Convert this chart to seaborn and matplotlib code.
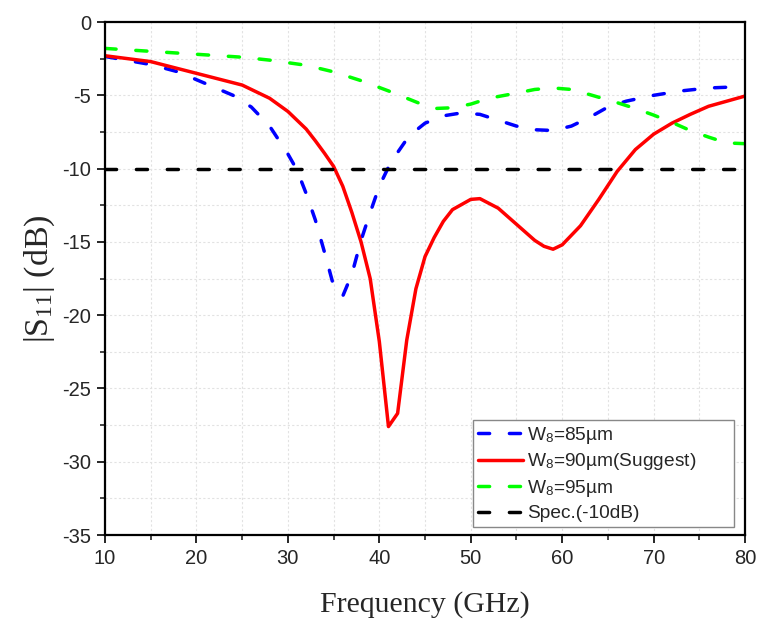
import matplotlib
matplotlib.use("Agg")
import matplotlib.pyplot as plt
import seaborn as sns
import pandas as pd
from matplotlib.ticker import MultipleLocator

# ---- data ----
freq_85 = [10, 15, 18, 21, 24, 26, 28, 30, 31, 32, 33, 34, 35, 36, 37, 38, 39, 40, 41, 42, 43, 44, 45,
           47, 49, 51, 53, 55, 57, 59, 61, 63, 65, 67, 70, 73, 76, 80]
s11_85 = [-2.35, -2.9, -3.4, -4.2, -5.0, -5.8, -7.1, -9.0, -10.1, -11.7, -13.5, -15.7, -18.0, -18.7,
          -17.2, -14.9, -13.0, -11.2, -9.9, -8.9, -8.0, -7.4, -6.9, -6.4, -6.2, -6.3, -6.7, -7.1,
          -7.35, -7.4, -7.1, -6.5, -5.8, -5.4, -5.0, -4.7, -4.5, -4.4]

freq_90 = [10, 15, 20, 25, 28, 30, 32, 33, 34, 35, 36, 37, 38, 39, 40, 41, 42, 43, 44, 45, 46, 47, 48,
           50, 51, 53, 55, 57, 58, 59, 60, 62, 64, 66, 68, 70, 72, 74, 76, 78, 80]
s11_90 = [-2.3, -2.7, -3.5, -4.3, -5.2, -6.1, -7.3, -8.1, -8.95, -9.85, -11.2, -13.0, -15.0, -17.5,
          -21.8, -27.6, -26.7, -21.7, -18.2, -16.0, -14.7, -13.6, -12.8, -12.1, -12.05, -12.7, -13.8,
          -14.9, -15.3, -15.5, -15.2, -13.9, -12.1, -10.2, -8.7, -7.65, -6.9, -6.3, -5.75, -5.4, -5.05]

freq_95 = [10, 15, 20, 25, 28, 32, 35, 38, 41, 43, 45, 46, 48, 50, 52, 55, 57, 59, 61, 63, 66, 68,
           70, 72, 74, 76, 78, 80]
s11_95 = [-1.8, -2.0, -2.2, -2.4, -2.6, -2.95, -3.4, -4.0, -4.7, -5.2, -5.7, -5.9, -5.85, -5.6,
          -5.2, -4.85, -4.6, -4.5, -4.6, -4.95, -5.5, -5.9, -6.35, -6.85, -7.4, -7.85, -8.25, -8.3]

freq_spec = [10, 80]
s11_spec = [-10, -10]

labels = [r"W$_{\mathsf{8}}$=85µm", r"W$_{\mathsf{8}}$=90µm(Suggest)",
          r"W$_{\mathsf{8}}$=95µm", "Spec.(-10dB)"]

# ---- style ----
sns.set_style("white")
plt.rcParams["font.family"] = ["Liberation Sans", "DejaVu Sans"]
plt.rcParams["axes.unicode_minus"] = False
plt.rcParams["mathtext.fontset"] = "custom"
plt.rcParams["mathtext.rm"] = "Liberation Serif"
plt.rcParams["mathtext.sf"] = "Liberation Sans"
plt.rcParams["mathtext.it"] = "Liberation Serif:italic"

fig = plt.figure(figsize=(7.58, 6.24), dpi=100)
ax = fig.add_axes([0.1385, 0.1426, 0.8445, 0.8221])

dash = (3.2, 5.7)
series = [
    (freq_85, s11_85, "#0000FF", dash),
    (freq_90, s11_90, "#FF0000", None),
    (freq_95, s11_95, "#00FF00", dash),
    (freq_spec, s11_spec, "#000000", dash),
]
for (fx, fy, col, ds), lab in zip(series, labels):
    df = pd.DataFrame({"f": fx, "s": fy})
    kw = dict(dash_capstyle="round", solid_joinstyle="round")
    if ds is not None:
        kw["dashes"] = ds
    sns.lineplot(data=df, x="f", y="s", ax=ax, color=col, linewidth=2.5,
                 label=lab, sort=False, **kw)

ax.set_xlim(10, 80)
ax.set_ylim(-35, 0)
ax.xaxis.set_major_locator(MultipleLocator(10))
ax.xaxis.set_minor_locator(MultipleLocator(5))
ax.yaxis.set_major_locator(MultipleLocator(5))
ax.yaxis.set_minor_locator(MultipleLocator(2.5))

ax.grid(True, which="both", color="#e2e2e2", linestyle=(0, (2, 2)), linewidth=0.8)
ax.set_axisbelow(True)

for sp in ax.spines.values():
    sp.set_color("black")
    sp.set_linewidth(1.6)

ax.tick_params(axis="both", which="major", direction="out", length=6, width=1.4,
               labelsize=14.5, bottom=True, left=True, top=False, right=False, pad=4)
ax.tick_params(axis="both", which="minor", direction="out", length=3.5, width=1.2,
               bottom=True, left=True, top=False, right=False)

ax.set_xlabel("Frequency (GHz)", family="Liberation Serif", fontsize=21.5, labelpad=17)
ax.set_ylabel(r"|S$_{\mathrm{11}}$| (dB)", family="Liberation Serif", fontsize=24.5, labelpad=4)

leg = ax.legend(loc="lower left", bbox_to_anchor=(0.575, 0.0156, 0.408, 0.2), mode="expand",
                fontsize=13.8, frameon=True, fancybox=False, framealpha=1, edgecolor="#888888",
                handlelength=2.35, handletextpad=0.2, borderpad=0.25, labelspacing=0.3,
                borderaxespad=0.0)
leg.get_frame().set_linewidth(1.0)

fig.savefig("out.png", dpi=100)
